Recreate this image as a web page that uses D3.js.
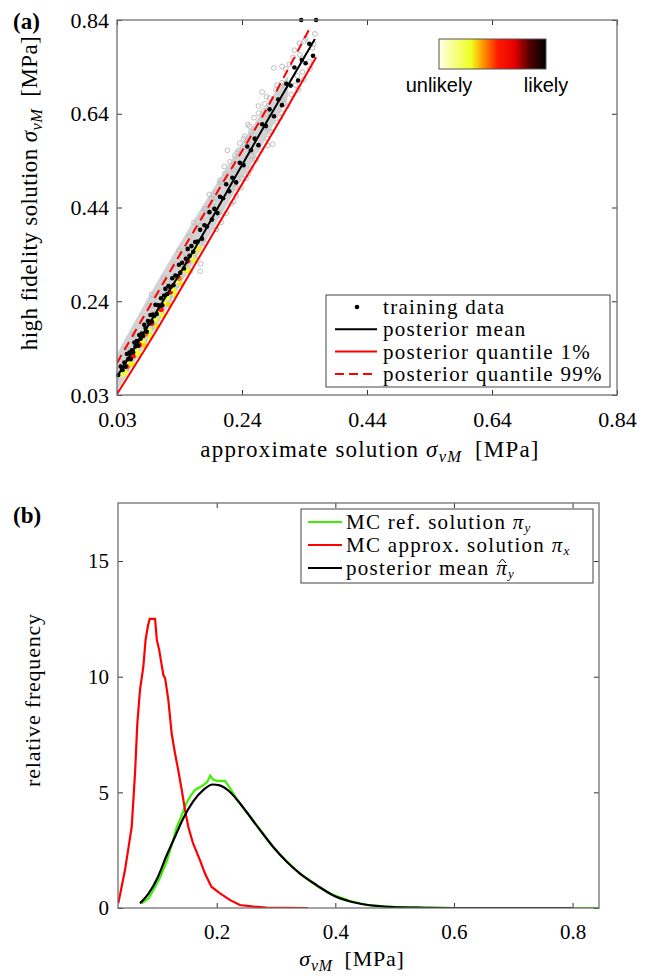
<!DOCTYPE html>
<html>
<head>
<meta charset="utf-8">
<script src="https://cdn.jsdelivr.net/npm/d3@7/dist/d3.min.js"></script>
<style>
  body { margin: 0; background: #fff; }
  text { font-family: "Liberation Serif", "Times New Roman", serif; fill: #000; }
  .sans { font-family: "Liberation Sans", Arial, sans-serif; }
</style>
</head>
<body>
<div id="chart"></div>
<script>
// ---------- data, panel (a) ----------
var aTickVals = [0.034, 0.2355, 0.437, 0.6385, 0.84];
var aTickLabels = ["0.03", "0.24", "0.44", "0.64", "0.84"];

// posterior lines [x, y]
var meanLine = [[0.034, 0.073], [0.10, 0.218], [0.16, 0.350], [0.22, 0.492], [0.277, 0.625], [0.353, 0.799]];
var q01Line = [[0.034, 0.036], [0.10, 0.178], [0.163, 0.322], [0.22, 0.452], [0.297, 0.625], [0.355, 0.760]];
var q99Line = [[0.034, 0.103], [0.10, 0.255], [0.14, 0.346], [0.20, 0.480], [0.265, 0.625], [0.345, 0.823]];

// dense grey core of the MC cloud
var bandX = [0.034, 0.06, 0.10, 0.14, 0.18, 0.22, 0.25, 0.28, 0.31];
var bandHi = [0.122, 0.186, 0.280, 0.370, 0.458, 0.542, 0.605, 0.668, 0.720];
var bandLo = [0.042, 0.100, 0.187, 0.280, 0.370, 0.463, 0.530, 0.600, 0.676];

// grey MC samples (open circles)
var mcPoints = [
  [0.049,0.090],[0.040,0.105],[0.067,0.120],[0.049,0.135],[0.078,0.150],[0.060,0.165],[0.095,0.180],[0.078,0.195],
  [0.106,0.210],[0.085,0.225],[0.124,0.240],[0.102,0.255],[0.131,0.270],[0.109,0.285],[0.152,0.300],[0.127,0.315],
  [0.159,0.330],[0.134,0.345],[0.176,0.360],[0.151,0.375],[0.194,0.390],[0.158,0.405],[0.201,0.420],[0.175,0.435],
  [0.222,0.450],[0.183,0.465],[0.225,0.480],[0.200,0.495],[0.246,0.510],[0.207,0.525],[0.256,0.540],[0.228,0.555],
  [0.277,0.570],[0.238,0.585],[0.280,0.600],[0.245,0.615],[0.297,0.630],[0.270,0.645],[0.303,0.660],[0.275,0.675],
  [0.326,0.690],[0.300,0.705],[0.325,0.720],[0.306,0.735],[0.344,0.750],[0.329,0.765],[0.349,0.780],[0.336,0.795],
  [0.353,0.810],[0.043,0.098],[0.062,0.128],[0.067,0.158],[0.091,0.188],[0.092,0.218],[0.117,0.248],[0.116,0.278],
  [0.145,0.308],[0.145,0.338],[0.170,0.368],[0.169,0.398],[0.198,0.428],[0.194,0.458],[0.223,0.488],[0.222,0.518],
  [0.251,0.548],[0.244,0.578],[0.274,0.608],[0.275,0.638],[0.304,0.668],[0.305,0.698],[0.333,0.728],[0.332,0.758],
  [0.351,0.788],[0.169,0.316],[0.090,0.250],[0.212,0.560],[0.268,0.685],[0.287,0.737],[0.285,0.573],[0.168,0.300],
  [0.250,0.600],[0.262,0.640],[0.292,0.700],[0.318,0.760],[0.235,0.500],[0.214,0.470],[0.188,0.440],[0.230,0.560],
  [0.300,0.740],[0.290,0.690],[0.280,0.672],[0.272,0.660],[0.262,0.655],[0.255,0.630],[0.248,0.612],[0.240,0.590],
  [0.232,0.575],[0.224,0.548],[0.216,0.535],[0.208,0.510],[0.200,0.490],[0.193,0.470],[0.186,0.455],[0.178,0.432],
  [0.170,0.415],[0.322,0.700],[0.315,0.680],[0.308,0.655],[0.300,0.640],[0.292,0.620],[0.284,0.600],[0.276,0.585],
  [0.266,0.560],[0.258,0.540],[0.250,0.520],[0.242,0.500],[0.234,0.480],[0.226,0.462],[0.218,0.445],[0.210,0.425],
  [0.202,0.405],[0.194,0.390],[0.338,0.800],[0.328,0.790],[0.320,0.775],[0.312,0.745],[0.345,0.735],[0.335,0.712]
];

// likelihood-coloured samples [x, y, likelihood 0..1]
var densPoints = [
  [0.042,0.078,0.2],[0.050,0.095,0.5],[0.055,0.105,0.3],[0.060,0.118,0.6],[0.066,0.128,0.25],[0.070,0.142,0.7],
  [0.076,0.150,0.3],[0.080,0.165,0.45],[0.086,0.172,0.25],[0.090,0.188,0.6],[0.096,0.196,0.3],[0.100,0.212,0.2],
  [0.105,0.218,0.55],[0.110,0.232,0.3],[0.115,0.243,0.25],[0.120,0.256,0.7],[0.125,0.262,0.3],[0.130,0.279,0.2],
  [0.134,0.285,0.45],[0.139,0.300,0.28],[0.144,0.305,0.3],[0.148,0.322,0.6],[0.153,0.330,0.25],[0.158,0.341,0.3],
  [0.163,0.352,0.2],
  [0.047,0.082,0.3],[0.058,0.100,0.32],[0.068,0.122,0.3],[0.078,0.140,0.35],[0.088,0.160,0.3],[0.098,0.182,0.32],
  [0.108,0.205,0.3],[0.118,0.228,0.35],[0.128,0.250,0.3],[0.138,0.272,0.32],[0.150,0.300,0.3],[0.160,0.322,0.3],
  [0.166,0.348,0.32]
];

// training data
var trainPoints = [
  [0.036,0.077],[0.040,0.095],[0.043,0.088],[0.046,0.104],[0.048,0.095],[0.050,0.122],[0.052,0.111],[0.054,0.125],
  [0.056,0.111],[0.058,0.130],[0.060,0.126],[0.062,0.147],[0.064,0.139],[0.066,0.150],[0.068,0.140],[0.070,0.163],
  [0.072,0.155],[0.074,0.166],[0.076,0.161],[0.078,0.185],[0.080,0.178],[0.082,0.170],[0.084,0.193],[0.086,0.188],
  [0.088,0.206],[0.090,0.192],[0.092,0.207],[0.094,0.204],[0.096,0.228],[0.098,0.208],[0.100,0.227],[0.103,0.226],
  [0.105,0.242],[0.107,0.227],[0.110,0.248],[0.112,0.262],[0.115,0.251],[0.117,0.268],[0.120,0.266],[0.123,0.285],
  [0.125,0.270],[0.128,0.291],[0.131,0.289],[0.134,0.314],[0.136,0.297],[0.139,0.318],[0.142,0.306],[0.145,0.327],
  [0.148,0.348],[0.151,0.333],[0.154,0.354],[0.157,0.342],[0.160,0.363],[0.164,0.364],[0.168,0.389],[0.171,0.370],
  [0.175,0.399],[0.179,0.396],[0.183,0.427],[0.187,0.411],[0.191,0.434],[0.196,0.425],[0.200,0.460],[0.205,0.457],
  [0.210,0.487],[0.215,0.472],[0.220,0.501],[0.226,0.491],[0.232,0.533],[0.238,0.528],[0.244,0.568],[0.250,0.560],
  [0.256,0.585],[0.262,0.571],[0.268,0.616],[0.274,0.612],[0.280,0.648],[0.287,0.633],[0.294,0.669],[0.300,0.657],
  [0.307,0.703],[0.314,0.699],[0.320,0.738],[0.326,0.710],[0.332,0.754],[0.338,0.747],[0.344,0.789],[0.350,0.763],
  [0.331,0.840],[0.355,0.840]
];

// colour map of the likelihood bar
var cmapStops = [0, 0.3, 0.4, 0.55, 0.7, 0.85, 1];
var cmapColors = ["#ffffe6", "#eeff22", "#ffa000", "#ff1a00", "#e80000", "#500000", "#000000"];

// ---------- data, panel (b) ----------
var bTickX = [0.2, 0.4, 0.6, 0.8];
var bTickY = [0, 5, 10, 15];

var approxX = [0.034,0.0453,0.0566,0.0622,0.0661,0.0706,0.0762,0.080,0.084,0.087,0.096,0.099,0.103,0.110,0.113,0.1184,
  0.124,0.1296,0.135,0.141,0.1465,0.152,0.160,0.1715,0.180,0.191,0.205,0.222,0.239,0.262,0.284,0.354];
var approxY = [0.2,1.64,3.51,5.82,7.98,9.43,10.43,11.59,12.2,12.5,12.5,11.59,11.15,10.07,9.93,8.99,
  7.55,6.69,5.97,5.10,4.24,3.51,2.80,2.08,1.50,0.92,0.64,0.35,0.13,0.06,0.02,0.0];

var refX = [0.0735,0.085,0.095,0.104,0.1155,0.125,0.132,0.140,0.149,0.156,0.163,0.170,0.177,0.184,0.189,0.194,0.200,
  0.206,0.214,0.222,0.234,0.250,0.273,0.295,0.318,0.340,0.369,0.395,0.425,0.453,0.498,0.550,0.600,0.700,0.800,0.845];
var refY = [0.2,0.42,0.85,1.3,2.0,2.8,3.45,3.95,4.55,4.85,5.1,5.2,5.3,5.45,5.72,5.55,5.5,
  5.5,5.5,5.2,4.7,4.15,3.4,2.62,2.02,1.48,0.95,0.58,0.30,0.13,0.05,0.02,0.0,0.0,0.0,0.0];

var postX = [0.0706,0.085,0.100,0.116,0.130,0.143,0.160,0.178,0.193,0.205,0.220,0.235,0.250,0.273,0.295,0.318,0.340,
  0.369,0.395,0.425,0.453,0.498,0.550,0.600,0.800];
var postY = [0.2,0.62,1.3,2.3,3.1,3.85,4.6,5.12,5.34,5.3,5.07,4.66,4.16,3.37,2.65,2.0,1.5,
  0.98,0.56,0.28,0.14,0.04,0.01,0.0,0.0];

// ---------- svg ----------
var W = 647, H = 978;
var svg = d3.select("#chart").append("svg")
  .attr("width", W).attr("height", H);

var axisCol = "#707070";

function sigmaLabel(t, size) {
  t.append("tspan").attr("font-style", "italic").text("σ");
  t.append("tspan").attr("font-style", "italic").attr("font-size", (size * 0.72) + "px")
    .attr("dy", size * 0.22).text("vM");
  t.append("tspan").attr("dy", -size * 0.22).text("\u2002[MPa]");
}

// ================= panel (a) =================
var a = { left: 117, right: 617, top: 20, bottom: 395 };
var xa = d3.scaleLinear().domain([0.034, 0.84]).range([a.left, a.right]);
var ya = d3.scaleLinear().domain([0.034, 0.84]).range([a.bottom, a.top]);

svg.append("clipPath").attr("id", "clipA").append("rect")
  .attr("x", a.left).attr("y", a.top).attr("width", a.right - a.left).attr("height", a.bottom - a.top);

var gA = svg.append("g");
var plotA = gA.append("g").attr("clip-path", "url(#clipA)");

// grey core band
var band = bandX.map(function (d, i) { return { x: d, lo: bandLo[i], hi: bandHi[i] }; });
plotA.append("path").datum(band)
  .attr("d", d3.area().x(function (d) { return xa(d.x); })
    .y0(function (d) { return ya(d.lo); }).y1(function (d) { return ya(d.hi); })
    .curve(d3.curveMonotoneX))
  .attr("fill", "#d2d2d2");

plotA.selectAll(".mc").data(mcPoints).enter().append("circle")
  .attr("cx", function (d) { return xa(d[0]); })
  .attr("cy", function (d) { return ya(d[1]); })
  .attr("r", 2.4).attr("fill", "none").attr("stroke", "#bebebe").attr("stroke-width", 1);

var cmap = d3.scaleLinear().domain(cmapStops).range(cmapColors);
plotA.selectAll(".dens").data(densPoints).enter().append("circle")
  .attr("cx", function (d) { return xa(d[0]); })
  .attr("cy", function (d) { return ya(d[1]); })
  .attr("r", 2.7).attr("fill", function (d) { return cmap(d[2]); });

var lineA = d3.line().x(function (d) { return xa(d[0]); }).y(function (d) { return ya(d[1]); })
  .curve(d3.curveMonotoneX);
plotA.append("path").datum(q01Line).attr("d", lineA)
  .attr("fill", "none").attr("stroke", "#ff0000").attr("stroke-width", 2);
plotA.append("path").datum(q99Line).attr("d", lineA)
  .attr("fill", "none").attr("stroke", "#ff0000").attr("stroke-width", 2).attr("stroke-dasharray", "9,6");
plotA.append("path").datum(meanLine).attr("d", lineA)
  .attr("fill", "none").attr("stroke", "#000").attr("stroke-width", 2);

gA.selectAll(".train").data(trainPoints).enter().append("circle")
  .attr("cx", function (d) { return xa(d[0]); })
  .attr("cy", function (d) { return ya(d[1]); })
  .attr("r", 2.3).attr("fill", "#000");

// axes (a)
function styleAxis(g) {
  g.select(".domain").remove();
  g.selectAll(".tick line").attr("stroke", "#333");
}
gA.append("g").attr("transform", "translate(0," + a.bottom + ")")
  .call(d3.axisBottom(xa).tickValues(aTickVals).tickSize(-5).tickPadding(16)
    .tickFormat(function (d, i) { return aTickLabels[i]; }))
  .call(styleAxis)
  .selectAll("text").attr("font-size", "22px").attr("font-family", "Liberation Serif");
gA.append("g").attr("transform", "translate(0," + a.top + ")")
  .call(d3.axisTop(xa).tickValues(aTickVals).tickSize(-5).tickFormat(""))
  .call(styleAxis);
gA.append("g").attr("transform", "translate(" + a.left + ",0)")
  .call(d3.axisLeft(ya).tickValues(aTickVals).tickSize(-5).tickPadding(8)
    .tickFormat(function (d, i) { return aTickLabels[i]; }))
  .call(styleAxis)
  .selectAll("text").attr("font-size", "22px").attr("font-family", "Liberation Serif");
gA.append("g").attr("transform", "translate(" + a.right + ",0)")
  .call(d3.axisRight(ya).tickValues(aTickVals).tickSize(-5).tickFormat(""))
  .call(styleAxis);
gA.append("rect").attr("x", a.left).attr("y", a.top)
  .attr("width", a.right - a.left).attr("height", a.bottom - a.top)
  .attr("fill", "none").attr("stroke", axisCol).attr("stroke-width", 1.3);

// labels (a)
svg.append("text").attr("x", 13).attr("y", 29).attr("font-weight", "bold")
  .attr("font-size", "23px").text("(a)");
var xla = svg.append("text").attr("x", 370).attr("y", 457).attr("text-anchor", "middle")
  .attr("font-size", "23px").attr("letter-spacing", "1.2px");
xla.append("tspan").text("approximate solution ");
sigmaLabel(xla, 23);
var yla = svg.append("text").attr("transform", "translate(37,193) rotate(-90)")
  .attr("text-anchor", "middle").attr("font-size", "23px").attr("letter-spacing", "0.4px");
yla.append("tspan").text("high fidelity solution ");
sigmaLabel(yla, 23);

// colour bar
var grad = svg.append("defs").append("linearGradient").attr("id", "hot");
grad.selectAll("stop").data(cmapStops).enter().append("stop")
  .attr("offset", function (d) { return (d * 100) + "%"; })
  .attr("stop-color", function (d, i) { return cmapColors[i]; });
svg.append("rect").attr("x", 439).attr("y", 39).attr("width", 107).attr("height", 30)
  .attr("fill", "url(#hot)").attr("stroke", "#555").attr("stroke-width", 1);
svg.append("text").attr("class", "sans").attr("x", 439).attr("y", 92)
  .attr("text-anchor", "middle").attr("font-size", "20px").text("unlikely");
svg.append("text").attr("class", "sans").attr("x", 546).attr("y", 92)
  .attr("text-anchor", "middle").attr("font-size", "20px").text("likely");

// legend (a)
var legA = svg.append("g");
legA.append("rect").attr("x", 326).attr("y", 295).attr("width", 284).attr("height", 92)
  .attr("fill", "#fff").attr("stroke", "#444").attr("stroke-width", 1);
var legRowsA = [
  { label: "training data", type: "dot" },
  { label: "posterior mean", type: "line", color: "#000", dash: null },
  { label: "posterior quantile 1%", type: "line", color: "#ff0000", dash: null },
  { label: "posterior quantile 99%", type: "line", color: "#ff0000", dash: "9,5" }
];
legRowsA.forEach(function (r, i) {
  var cy = 307 + i * 22.3;
  if (r.type == "dot") {
    legA.append("circle").attr("cx", 357).attr("cy", cy).attr("r", 2.3).attr("fill", "#000");
  } else {
    legA.append("line").attr("x1", 335).attr("x2", 377).attr("y1", cy).attr("y2", cy)
      .attr("stroke", r.color).attr("stroke-width", 2).attr("stroke-dasharray", r.dash);
  }
  legA.append("text").attr("x", 383).attr("y", cy + 7).attr("font-size", "21px")
    .attr("letter-spacing", "1.3px").text(r.label);
});

// ================= panel (b) =================
var b = { left: 118, right: 599, top: 503, bottom: 908 };
var xb = d3.scaleLinear().domain([0.0335, 0.8446]).range([b.left, b.right]);
var yb = d3.scaleLinear().domain([0, 17.51]).range([b.bottom, b.top]);

svg.append("clipPath").attr("id", "clipB").append("rect")
  .attr("x", b.left).attr("y", b.top).attr("width", b.right - b.left).attr("height", b.bottom - b.top);
var gB = svg.append("g");
var plotB = gB.append("g").attr("clip-path", "url(#clipB)");

function series(xs, ys) { return xs.map(function (d, i) { return [d, ys[i]]; }); }
var lineB = d3.line().x(function (d) { return xb(d[0]); }).y(function (d) { return yb(d[1]); });

plotB.append("path").datum(series(refX, refY)).attr("d", lineB)
  .attr("fill", "none").attr("stroke", "#3cf000").attr("stroke-width", 2.2);
plotB.append("path").datum(series(approxX, approxY)).attr("d", lineB)
  .attr("fill", "none").attr("stroke", "#ff0000").attr("stroke-width", 2.2);
plotB.append("path").datum(series(postX, postY)).attr("d", lineB.curve(d3.curveMonotoneX))
  .attr("fill", "none").attr("stroke", "#000").attr("stroke-width", 2.2);

gB.append("g").attr("transform", "translate(0," + b.bottom + ")")
  .call(d3.axisBottom(xb).tickValues(bTickX).tickSize(-5).tickPadding(16).tickFormat(d3.format(".1f")))
  .call(styleAxis)
  .selectAll("text").attr("font-size", "21px").attr("font-family", "Liberation Serif");
gB.append("g").attr("transform", "translate(0," + b.top + ")")
  .call(d3.axisTop(xb).tickValues(bTickX).tickSize(-5).tickFormat(""))
  .call(styleAxis);
gB.append("g").attr("transform", "translate(" + b.left + ",0)")
  .call(d3.axisLeft(yb).tickValues(bTickY).tickSize(-5).tickPadding(9).tickFormat(d3.format("d")))
  .call(styleAxis)
  .selectAll("text").attr("font-size", "21px").attr("font-family", "Liberation Serif");
gB.append("g").attr("transform", "translate(" + b.right + ",0)")
  .call(d3.axisRight(yb).tickValues(bTickY).tickSize(-5).tickFormat(""))
  .call(styleAxis);
gB.append("rect").attr("x", b.left).attr("y", b.top)
  .attr("width", b.right - b.left).attr("height", b.bottom - b.top)
  .attr("fill", "none").attr("stroke", axisCol).attr("stroke-width", 1.3);

// labels (b)
svg.append("text").attr("x", 13).attr("y", 523).attr("font-weight", "bold")
  .attr("font-size", "23px").text("(b)");
var xlb = svg.append("text").attr("x", 352).attr("y", 966).attr("text-anchor", "middle")
  .attr("font-size", "22px").attr("letter-spacing", "0.8px");
sigmaLabel(xlb, 22);
svg.append("text").attr("transform", "translate(40,700) rotate(-90)")
  .attr("text-anchor", "middle").attr("font-size", "22px").attr("letter-spacing", "0.8px")
  .text("relative frequency");

// legend (b)
var legB = svg.append("g");
legB.append("rect").attr("x", 301).attr("y", 509).attr("width", 292).attr("height", 74)
  .attr("fill", "#fff").attr("stroke", "#444").attr("stroke-width", 1);
var legRowsB = [
  { main: "MC ref. solution ", sub: "y", hat: false, color: "#3cf000" },
  { main: "MC approx. solution ", sub: "x", hat: false, color: "#ff0000" },
  { main: "posterior mean ", sub: "y", hat: true, color: "#000" }
];
legRowsB.forEach(function (r, i) {
  var cy = 522 + i * 23;
  var base = cy + 7;
  legB.append("line").attr("x1", 308).attr("x2", 342).attr("y1", cy).attr("y2", cy)
    .attr("stroke", r.color).attr("stroke-width", 2.2);
  var t = legB.append("text").attr("x", 346).attr("y", base).attr("font-size", "21px")
    .attr("letter-spacing", "1.3px");
  t.append("tspan").text(r.main);
  t.append("tspan").attr("font-style", "italic").text("π");
  t.append("tspan").attr("font-style", "italic").attr("font-size", "13px").attr("dy", 2.5).text(r.sub);
  if (r.hat) {
    var k = r.main.length;
    var p0 = t.node().getStartPositionOfChar(k).x;
    var p1 = t.node().getEndPositionOfChar(k).x - 1.3;
    var pm = (p0 + p1) / 2 + 1;
    legB.append("path")
      .attr("d", "M" + (pm - 3.5) + "," + (base - 12) + "L" + pm + "," + (base - 16) + "L" + (pm + 3.5) + "," + (base - 12))
      .attr("fill", "none").attr("stroke", "#000").attr("stroke-width", 1);
  }
});
</script>
</body>
</html>
